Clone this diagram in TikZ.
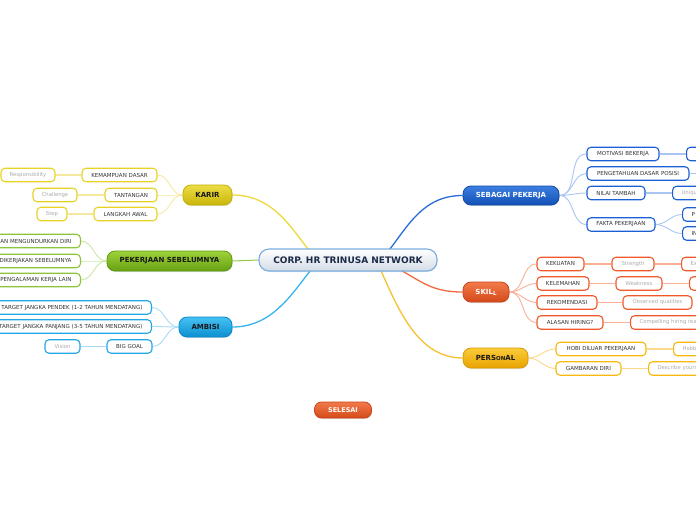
\documentclass[tikz,border=0pt]{standalone}
\usepackage{fontspec}
\setmainfont{DejaVu Sans}
\usetikzlibrary{shadows}
\definecolor{kidtxt}{HTML}{333333}
\definecolor{gtxt}{HTML}{AAAAAA}
\definecolor{ytop}{HTML}{ECDD45}\definecolor{ybot}{HTML}{C9B50A}\definecolor{ydraw}{HTML}{C4B000}
\definecolor{ykid}{HTML}{E8D325}\definecolor{yline}{HTML}{EDD93A}\definecolor{ylight}{HTML}{F5E9A0}
\definecolor{gtop}{HTML}{9FD23A}\definecolor{gbot}{HTML}{66A012}\definecolor{gdraw}{HTML}{5F9A10}
\definecolor{gkid}{HTML}{8CC43C}\definecolor{gline}{HTML}{97C74A}\definecolor{glight}{HTML}{CDE5A8}
\definecolor{btop}{HTML}{45C1F3}\definecolor{bbot}{HTML}{0D8FD0}\definecolor{bdraw}{HTML}{0A88C8}
\definecolor{bkid}{HTML}{21A6E6}\definecolor{bline}{HTML}{35B5EF}\definecolor{blight}{HTML}{A6DCF6}
\definecolor{dtop}{HTML}{3B7FE0}\definecolor{dbot}{HTML}{124FB5}\definecolor{ddraw}{HTML}{104AA8}
\definecolor{dkid}{HTML}{1B5FD6}\definecolor{dline}{HTML}{2A6CD6}\definecolor{dlight}{HTML}{A9C5F2}
\definecolor{rtop}{HTML}{F27A4A}\definecolor{rbot}{HTML}{D44A1A}\definecolor{rdraw}{HTML}{C8441A}
\definecolor{rkid}{HTML}{F0582A}\definecolor{rline}{HTML}{F06A40}\definecolor{rlight}{HTML}{F8B098}
\definecolor{otop}{HTML}{FBCB3A}\definecolor{obot}{HTML}{E8A300}\definecolor{odraw}{HTML}{D99A00}
\definecolor{okid}{HTML}{F7B90F}\definecolor{oline}{HTML}{F6C02E}\definecolor{olight}{HTML}{FCD88A}
\definecolor{ctxt}{HTML}{1C2A4A}\definecolor{cdraw}{HTML}{79ADE0}\definecolor{cbot}{HTML}{D3DCE6}
\pgfdeclarelayer{bg}
\pgfsetlayers{bg,main}
\tikzset{
  kid/.style={draw=#1, fill=white, line width=1.1pt, rounded corners=4pt, minimum height=13.5pt,
    inner xsep=0pt, inner ysep=0pt, font=\fontsize{5.5}{6}\selectfont, text=kidtxt},
  gkidnode/.style={kid=#1, text=gtxt, font=\fontsize{5.3}{6}\selectfont},
  clipL/.style={text width=#1, align=right, inner xsep=9pt, anchor=east},
  clipR/.style={text width=#1, align=left, inner xsep=9pt, anchor=west},
  branch/.style n args={3}{draw=#1, top color=#2, bottom color=#3, line width=0.8pt,
    rounded corners=8pt, minimum height=20pt, inner sep=0pt, text=black!90,
    font=\fontsize{7}{8}\selectfont\bfseries,
    drop shadow={opacity=0.25, shadow xshift=0.6pt, shadow yshift=-1pt}},
  ml/.style={draw=#1, line width=1.3pt},
  kl/.style={draw=#1, line width=0.9pt},
  gl/.style={draw=#1, line width=1.8pt},
}
\begin{document}
\begin{tikzpicture}[x=1pt,y=-1pt]
\useasboundingbox (0,0) rectangle (696,520);

% centre
\node[draw=cdraw, top color=white, bottom color=cbot, line width=1.1pt, rounded corners=10pt,
  minimum width=178pt, minimum height=22pt, inner sep=0pt, text=ctxt,
  font=\fontsize{9}{10}\selectfont\bfseries,
  drop shadow={opacity=0.2, shadow xshift=0.6pt, shadow yshift=-1pt}] (c) at (348,260) {CORP. HR TRINUSA NETWORK};

% KARIR
\node[branch={ydraw}{ytop}{ybot}, minimum width=49pt] (karir) at (207.5,195) {KARIR};
\node[kid=ykid, minimum width=75pt] (kd) at (119.5,175) {KEMAMPUAN DASAR};
\node[kid=ykid, minimum width=52pt] (tan) at (131,195) {TANTANGAN};
\node[kid=ykid, minimum width=63pt] (la) at (125.5,214) {LANGKAH AWAL};
\node[gkidnode=ykid, minimum width=54pt] (resp) at (28,175) {Responsibility};
\node[gkidnode=ykid, minimum width=44pt] (chal) at (55,195) {Challenge};
\node[gkidnode=ykid, minimum width=30pt] (step1) at (52,214) {Step};

% PEKERJAAN SEBELUMNYA
\node[branch={gdraw}{gtop}{gbot}, minimum width=125pt] (pek) at (169.5,261) {PEKERJAAN SEBELUMNYA};
\node[kid=gkid, clipL=110pt] (g1) at (81,241) {ALASAN MENGUNDURKAN DIRI};
\node[kid=gkid, clipL=110pt] (g2) at (81,261) {DIKERJAKAN SEBELUMNYA};
\node[kid=gkid, clipL=110pt] (g3) at (81,280) {PENGALAMAN KERJA LAIN};

% AMBISI
\node[branch={bdraw}{btop}{bbot}, minimum width=53pt] (amb) at (205.5,327) {AMBISI};
\node[kid=bkid, clipL=160pt] (a1) at (152,307.5) {TARGET JANGKA PENDEK (1-2 TAHUN MENDATANG)};
\node[kid=bkid, clipL=160pt] (a2) at (152,326.5) {TARGET JANGKA PANJANG (3-5 TAHUN MENDATANG)};
\node[kid=bkid, minimum width=45pt] (bg) at (129.5,346.5) {BIG GOAL};
\node[gkidnode=bkid, minimum width=35pt] (vis) at (62.5,346.5) {Vision};

% SEBAGAI PEKERJA
\node[branch={ddraw}{dtop}{dbot}, minimum width=96pt, minimum height=19pt, text=white] (seb) at (511,195.5) {SEBAGAI PEKERJA};
\node[kid=dkid, minimum width=72pt] (mot) at (623,154) {MOTIVASI BEKERJA};
\node[gkidnode=dkid, anchor=west, minimum width=30pt] (mot2) at (686,154) {};
\node[kid=dkid, minimum width=102pt] (peng) at (638,173.5) {PENGETAHUAN DASAR POSISI};
\coordinate (peng2) at (700,173.5);
\node[kid=dkid, minimum width=58pt] (nil) at (616,193) {NILAI TAMBAH};
\node[gkidnode=dkid, clipR=60pt] (nil2) at (672,193) {Unique};
\node[kid=dkid, minimum width=68pt] (fak) at (621,224.5) {FAKTA PEKERJAAN};
\node[kid=dkid, clipR=40pt] (f1) at (682,214.5) {P};
\node[kid=dkid, clipR=40pt] (f2) at (682,233.5) {IN};

% SKILL
\node[branch={rdraw}{rtop}{rbot}, minimum width=46pt, text=white] (skl) at (486,292) {SKIL{\fontsize{5.5}{6}\selectfont\raisebox{-1pt}{L}}};
\node[kid=rkid, minimum width=47pt] (kek) at (560.5,264) {KEKUATAN};
\node[gkidnode=rkid, minimum width=42pt] (str) at (633,264) {Strength};
\node[gkidnode=rkid, clipR=40pt] (str2) at (681,264) {Ex};
\node[kid=rkid, minimum width=52pt] (kel) at (563,283.5) {KELEMAHAN};
\node[gkidnode=rkid, minimum width=46pt] (wk) at (639,283.5) {Weakness};
\node[gkidnode=rkid, anchor=west, minimum width=30pt] (wk2) at (689,283.5) {};
\node[kid=rkid, minimum width=60pt] (rek) at (567,302.5) {REKOMENDASI};
\node[gkidnode=rkid, minimum width=69pt] (obs) at (657.5,302.5) {Observed qualities};
\node[kid=rkid, minimum width=66pt] (ala) at (570,322.5) {ALASAN HIRING?};
\node[gkidnode=rkid, clipR=90pt] (cmp) at (630,322.5) {Compelling hiring reason};

% PERSONAL
\node[branch={odraw}{otop}{obot}, minimum width=65pt] (per) at (495.5,358) {PERS{\fontsize{5.5}{6}\selectfont ON}AL};
\node[kid=okid, minimum width=90pt] (hob) at (601,349) {HOBI DILUAR PEKERJAAN};
\node[gkidnode=okid, clipR=60pt] (hob2) at (673,349) {Hobbies};
\node[kid=okid, minimum width=65pt] (gam) at (588.5,368.5) {GAMBARAN DIRI};
\node[gkidnode=okid, clipR=80pt] (des) at (648,368.5) {Describe yourself};

% SELESAI
\node[branch={rdraw}{rtop}{rbot}, minimum width=57pt, minimum height=16pt, rounded corners=7pt, text=white,
  font=\fontsize{6.5}{7}\selectfont\bfseries] (sel) at (343,410) {SELESAI};

\begin{pgfonlayer}{bg}
% main connectors
\draw[ml=yline] ([xshift=-38pt,yshift=-3pt]c.north) .. controls +(-20,-25) and +(40,0) .. (karir.east);
\draw[ml=gline, line width=1pt] (pek.east) -- (c.west);
\draw[ml=bline] ([xshift=-36pt,yshift=3pt]c.south) .. controls +(-20,25) and +(40,0) .. (amb.east);
\draw[ml=dline] ([xshift=40pt,yshift=-3pt]c.north) .. controls +(20,-25) and +(-40,0) .. (seb.west);
\draw[ml=rline] ([xshift=50pt,yshift=3pt]c.south) .. controls +(25,14) and +(-30,0) .. (skl.west);
\draw[ml=oline] ([xshift=32pt,yshift=3pt]c.south) .. controls +(18,40) and +(-45,0) .. (per.west);
% yellow
\foreach \k in {kd,tan,la} \draw[kl=ylight] (karir.west) to[out=180,in=0] (\k.east);
\draw[gl=ylight] (kd.west) -- (resp.east);
\draw[gl=ylight] (tan.west) -- (chal.east);
\draw[gl=ylight] (la.west) -- (step1.east);
% green
\foreach \k in {g1,g2,g3} \draw[kl=glight] (pek.west) to[out=180,in=0] (\k.east);
% blue
\foreach \k in {a1,a2,bg} \draw[kl=blight] (amb.west) to[out=180,in=0] (\k.east);
\draw[gl=blight] (bg.west) -- (vis.east);
% dark blue
\foreach \k in {mot,peng,nil,fak} \draw[kl=dlight] (seb.east) to[out=0,in=180] (\k.west);
\draw[gl=dlight] (mot.east) -- (mot2.west);
\draw[gl=dlight] (peng.east) -- (peng2);
\draw[gl=dlight] (nil.east) -- (nil2.west);
\foreach \k in {f1,f2} \draw[kl=dlight] (fak.east) to[out=0,in=180] (\k.west);
% red
\foreach \k in {kek,kel,rek,ala} \draw[kl=rlight] (skl.east) to[out=0,in=180] (\k.west);
\draw[gl=rlight] (kek.east) -- (str.west);
\draw[gl=rlight] (str.east) -- (str2.west);
\draw[gl=rlight] (kel.east) -- (wk.west);
\draw[gl=rlight] (wk.east) -- (wk2.west);
\draw[gl=rlight] (rek.east) -- (obs.west);
\draw[gl=rlight] (ala.east) -- (cmp.west);
% orange
\foreach \k in {hob,gam} \draw[kl=olight] (per.east) to[out=0,in=180] (\k.west);
\draw[gl=olight] (hob.east) -- (hob2.west);
\draw[gl=olight] (gam.east) -- (des.west);
\end{pgfonlayer}
\end{tikzpicture}
\end{document}
